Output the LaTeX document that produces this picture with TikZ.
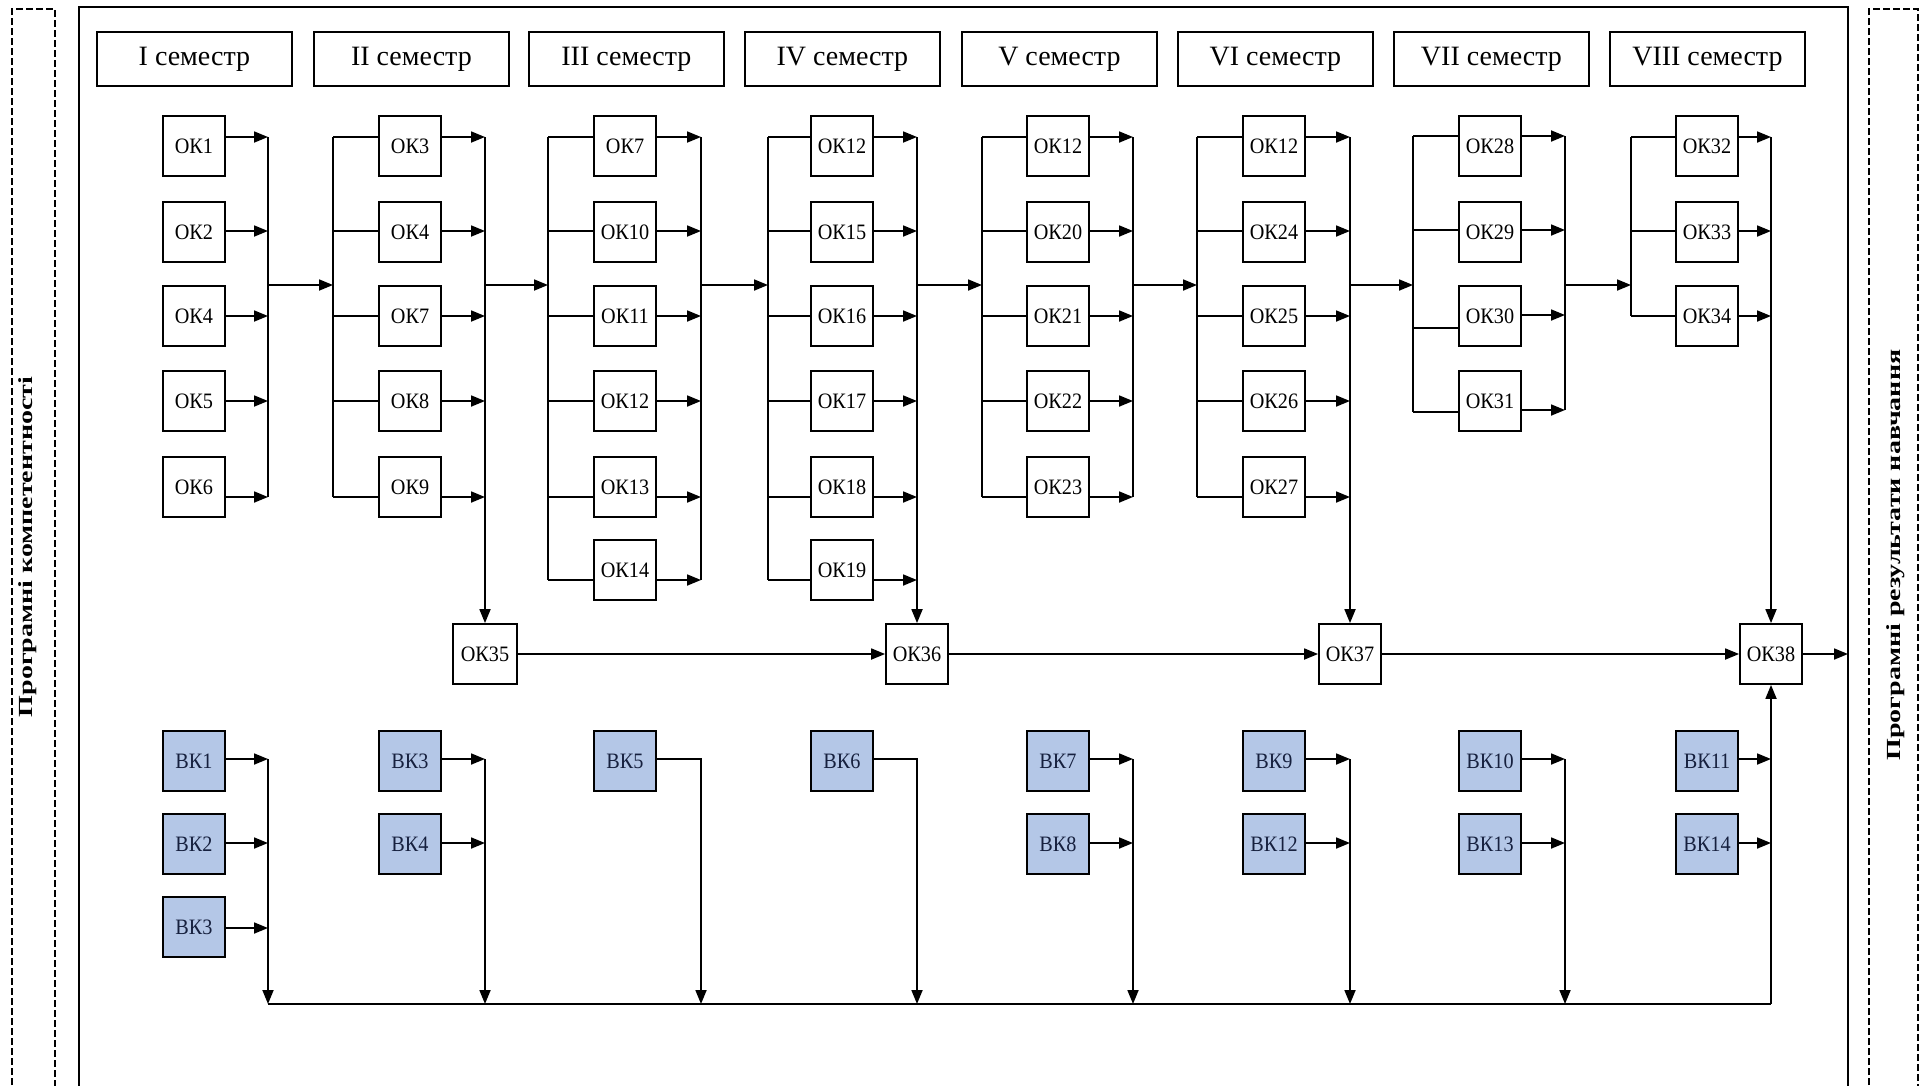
\documentclass[tikz,border=0pt]{standalone}
\usepackage{fontspec}
\usepackage{graphicx}
\setmainfont{Liberation Serif}
\newfontfamily\okfont[FakeStretch=0.92]{Liberation Serif}
\usetikzlibrary{arrows.meta}
\definecolor{vkfill}{RGB}{180,199,231}
\definecolor{vktext}{RGB}{22,32,62}
\tikzset{
  ln/.style={line width=1.8pt, draw=black},
  arr/.style={ln, -{Triangle[length=14pt,width=11pt]}},
  okbox/.style={draw, line width=1.8pt, fill=white, minimum width=62pt, minimum height=60pt, inner sep=0pt,
    font=\okfont\fontsize{22}{24}\selectfont},
  vkbox/.style={okbox, fill=vkfill, text=vktext},
  sembox/.style={draw, line width=1.8pt, minimum width=195pt, minimum height=54pt, inner sep=0pt,
    font=\fontsize{28}{30}\selectfont},
  dashbox/.style={line width=1.4pt, dash pattern=on 7pt off 3pt},
  framebox/.style={line width=1.8pt},
  sidelabel/.style={rotate=90, inner sep=0pt, font=\bfseries\fontsize{20}{22}\selectfont},
}
\begin{document}
\begin{tikzpicture}[x=1pt, y=-1pt]
\useasboundingbox (0,0) rectangle (1921,1085);
\fill[white] (0,0) rectangle (1921,1085);

% frames
\draw[dashbox] (12,1095) -- (12,9) -- (55,9) -- (55,1095);
\draw[framebox] (79,1095) -- (79,7) -- (1848,7) -- (1848,1095);
\draw[dashbox] (1869,1095) -- (1869,9) -- (1918,9) -- (1918,1095);

\node[sidelabel] (lbl-left) at (28,547) {\scalebox{1.4}[1]{Програмні компетентності}};
\node[sidelabel] (lbl-right) at (1896,555) {\scalebox{1.4}[1]{Програмні результати навчання}};

% semester headers
\foreach \i/\x/\sname in {1/96/I,2/313/II,3/528/III,4/744/IV,5/961/V,6/1177/VI,7/1393/VII,8/1609/VIII}
  \node[sembox, anchor=north west] (sem\i) at (\x,31) {\sname\ семестр};

\def\by{{146,232,316,401,487,570}}
\def\ay{{137,231,316,401,497,580}}
\def\ayS{{136,230,315,410}}
\def\lyS{{136,230,328,412}}

% OK columns
\foreach \c/\cx/\lx/\bx/\lst in {
  1/194/0/268/{ОК1,ОК2,ОК4,ОК5,ОК6},
  2/410/333/485/{ОК3,ОК4,ОК7,ОК8,ОК9},
  3/625/548/701/{ОК7,ОК10,ОК11,ОК12,ОК13,ОК14},
  4/842/768/917/{ОК12,ОК15,ОК16,ОК17,ОК18,ОК19},
  5/1058/982/1133/{ОК12,ОК20,ОК21,ОК22,ОК23},
  6/1274/1197/1350/{ОК12,ОК24,ОК25,ОК26,ОК27},
  7/1490/1413/1565/{ОК28,ОК29,ОК30,ОК31},
  8/1707/1631/1771/{ОК32,ОК33,ОК34}}{
  \foreach \lab [count=\r] in \lst {
    \pgfmathsetmacro\yb{\by[\r-1]}
    \ifnum\c=7
      \pgfmathsetmacro\ya{\ayS[\r-1]}\pgfmathsetmacro\yl{\lyS[\r-1]}
    \else
      \pgfmathsetmacro\ya{\ay[\r-1]}\pgfmathsetmacro\yl{\ay[\r-1]}
    \fi
    \node[okbox] (n-\c-\r) at (\cx,\yb) {\lab};
    \coordinate (B-\c-\r) at (\bx,\ya);
    \draw[arr] (n-\c-\r.east |- B-\c-\r) -- (B-\c-\r);
    \ifnum\c>1
      \coordinate (L-\c-\r) at (\lx,\yl);
      \draw[ln] (L-\c-\r) -- (n-\c-\r.west |- L-\c-\r);
    \fi
  }
  \coordinate (J-\c) at (\bx,285);
  \coordinate (K-\c) at (\lx,285);
}

% final OK nodes
\node[okbox, minimum width=64pt] (ok35) at (485,654) {ОК35};
\node[okbox] (ok36) at (917,654) {ОК36};
\node[okbox] (ok37) at (1350,654) {ОК37};
\node[okbox] (ok38) at (1771,654) {ОК38};
\coordinate (out) at (1848,654);

% vertical lines of the columns
\draw[ln] (B-1-1) -- (B-1-5);
\draw[ln] (L-2-1) -- (L-2-5);
\draw[arr] (B-2-1) -- (ok35.north);
\draw[ln] (L-3-1) -- (L-3-6);
\draw[ln] (B-3-1) -- (B-3-6);
\draw[ln] (L-4-1) -- (L-4-6);
\draw[arr] (B-4-1) -- (ok36.north);
\draw[ln] (L-5-1) -- (L-5-5);
\draw[ln] (B-5-1) -- (B-5-5);
\draw[ln] (L-6-1) -- (L-6-5);
\draw[arr] (B-6-1) -- (ok37.north);
\draw[ln] (L-7-1) -- (L-7-4);
\draw[ln] (B-7-1) -- (B-7-4);
\draw[ln] (L-8-1) -- (L-8-3);
\draw[arr] (B-8-1) -- (ok38.north);

% semester-to-semester arrows
\draw[arr] (J-1) -- (K-2);
\draw[arr] (J-2) -- (K-3);
\draw[arr] (J-3) -- (K-4);
\draw[arr] (J-4) -- (K-5);
\draw[arr] (J-5) -- (K-6);
\draw[arr] (J-6) -- (K-7);
\draw[arr] (J-7) -- (K-8);

% OK35..OK38 chain
\draw[arr] (ok35) -- (ok36);
\draw[arr] (ok36) -- (ok37);
\draw[arr] (ok37) -- (ok38);
\draw[arr] (ok38) -- (out);

% elective components
\def\vby{{761,844,927}}
\def\vay{{759,843,928}}
\foreach \c/\cx/\bx/\lst in {
  1/194/268/{ВК1,ВК2,ВК3},
  2/410/485/{ВК3,ВК4},
  3/625/701/{ВК5},
  4/842/917/{ВК6},
  5/1058/1133/{ВК7,ВК8},
  6/1274/1350/{ВК9,ВК12},
  7/1490/1565/{ВК10,ВК13},
  8/1707/1771/{ВК11,ВК14}}{
  \coordinate (D-\c) at (\bx,1004);
  \foreach \lab [count=\r] in \lst {
    \pgfmathsetmacro\yb{\vby[\r-1]}
    \pgfmathsetmacro\ya{\vay[\r-1]}
    \node[vkbox] (v-\c-\r) at (\cx,\yb) {\lab};
    \coordinate (V-\c-\r) at (\bx,\ya);
    \ifnum\c=3
      \draw[arr] (v-\c-\r.east |- V-\c-\r) -- (V-\c-\r) -- (D-\c);
    \else\ifnum\c=4
      \draw[arr] (v-\c-\r.east |- V-\c-\r) -- (V-\c-\r) -- (D-\c);
    \else
      \draw[arr] (v-\c-\r.east |- V-\c-\r) -- (V-\c-\r);
    \fi\fi
  }
}
\draw[arr] (V-1-1) -- (D-1);
\draw[arr] (V-2-1) -- (D-2);
\draw[arr] (V-5-1) -- (D-5);
\draw[arr] (V-6-1) -- (D-6);
\draw[arr] (V-7-1) -- (D-7);
\draw[ln] (D-1) -- (D-8);
\draw[arr] (D-8) -- (ok38.south);
\end{tikzpicture}
\end{document}
